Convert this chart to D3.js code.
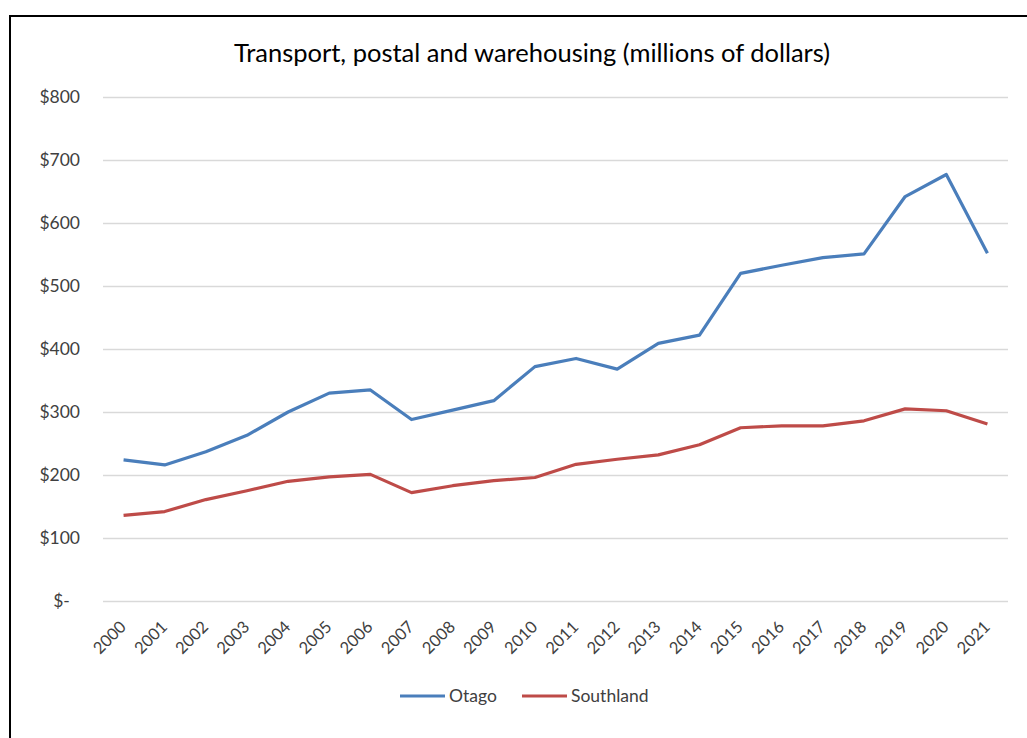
<!DOCTYPE html>
<html>
<head>
<meta charset="utf-8">
<script src="https://cdn.jsdelivr.net/npm/d3@7"></script>
<style>
  html, body { margin: 0; padding: 0; background: #fff; }
</style>
</head>
<body>
<div id="chart"></div>
<script>
// --- DATA ---
const years = ["2000","2001","2002","2003","2004","2005","2006","2007","2008","2009","2010",
               "2011","2012","2013","2014","2015","2016","2017","2018","2019","2020","2021"];
const otago = [224, 216, 237, 263, 300, 330, 335, 288, 303, 318, 372,
               385, 368, 409, 422, 520, 533, 545, 551, 642, 677, 552];
const southland = [136, 142, 161, 175, 190, 197, 201, 172, 183, 191, 196,
                   217, 225, 232, 248, 275, 278, 278, 286, 305, 302, 281];
const yTicks = [0, 100, 200, 300, 400, 500, 600, 700, 800];
const TITLE = "Transport, postal and warehousing (millions of dollars)";

// --- CONFIG ---
const WIDTH = 1027, HEIGHT = 738;
const PLOT = { left: 103, right: 1008, top: 97, bottom: 601 };
const FONT = "Lato, 'Open Sans', sans-serif";
const COLORS = { "Otago": "#4A7EBB", "Southland": "#BE4B48" };

const series = [
  { key: "Otago", values: otago },
  { key: "Southland", values: southland }
];

const svg = d3.select("#chart").append("svg")
  .attr("width", WIDTH)
  .attr("height", HEIGHT)
  .style("font-family", FONT);

// frame (only top/left edges visible in the screenshot)
svg.append("rect")
  .attr("x", 10).attr("y", 16)
  .attr("width", WIDTH + 20).attr("height", HEIGHT + 20)
  .attr("fill", "#fff")
  .attr("stroke", "#000")
  .attr("stroke-width", 2);

// scales
const x = d3.scalePoint()
  .domain(years)
  .range([PLOT.left, PLOT.right])
  .padding(0.5);

const y = d3.scaleLinear()
  .domain([0, 800])
  .range([PLOT.bottom, PLOT.top]);

// title
svg.append("text")
  .attr("x", 532)
  .attr("y", 62)
  .attr("text-anchor", "middle")
  .attr("font-size", "25.5px")
  .attr("fill", "#000")
  .text(TITLE);

// y axis + gridlines
const yAxis = d3.axisLeft(y)
  .tickValues(yTicks)
  .tickSize(-(PLOT.right - PLOT.left))
  .tickPadding(23)
  .tickFormat(d => d === 0 ? "$-\u2007" : "$" + d);

svg.append("g")
  .attr("transform", `translate(${PLOT.left}, 0)`)
  .call(yAxis)
  .call(g => g.select(".domain").remove())
  .call(g => g.selectAll(".tick line").attr("stroke", "#D9D9D9").attr("stroke-width", 1.5))
  .call(g => g.selectAll(".tick text")
    .attr("font-size", "17.5px")
    .attr("font-family", FONT)
    .attr("fill", "#404040"));

// x axis (labels only, rotated)
const xAxis = d3.axisBottom(x).tickSize(0).tickPadding(0);

svg.append("g")
  .attr("transform", `translate(0, ${PLOT.bottom})`)
  .call(xAxis)
  .call(g => g.select(".domain").remove())
  .call(g => g.selectAll(".tick text")
    .attr("font-size", "16.5px")
    .attr("font-family", FONT)
    .attr("fill", "#404040")
    .attr("text-anchor", "end")
    .attr("dy", null)
    .attr("y", 0)
    .attr("transform", "translate(3, 27) rotate(-45)"));

// lines
const line = d3.line()
  .x((d, i) => x(years[i]))
  .y(d => y(d));

svg.selectAll("path.series")
  .data(series)
  .join("path")
  .attr("class", "series")
  .attr("fill", "none")
  .attr("stroke", d => COLORS[d.key])
  .attr("stroke-width", 3.2)
  .attr("stroke-linejoin", "round")
  .attr("d", d => line(d.values));

// legend
const legendItems = [
  { key: "Otago", x: 400 },
  { key: "Southland", x: 522 }
];

const legend = svg.append("g").attr("transform", "translate(0, 696)");

legend.selectAll("line")
  .data(legendItems)
  .join("line")
  .attr("x1", d => d.x)
  .attr("x2", d => d.x + 45)
  .attr("y1", 0).attr("y2", 0)
  .attr("stroke", d => COLORS[d.key])
  .attr("stroke-width", 3.2);

legend.selectAll("text")
  .data(legendItems)
  .join("text")
  .attr("x", d => d.x + 49)
  .attr("y", 0)
  .attr("dy", "0.35em")
  .attr("font-size", "17.5px")
  .attr("fill", "#404040")
  .text(d => d.key);
</script>
</body>
</html>
